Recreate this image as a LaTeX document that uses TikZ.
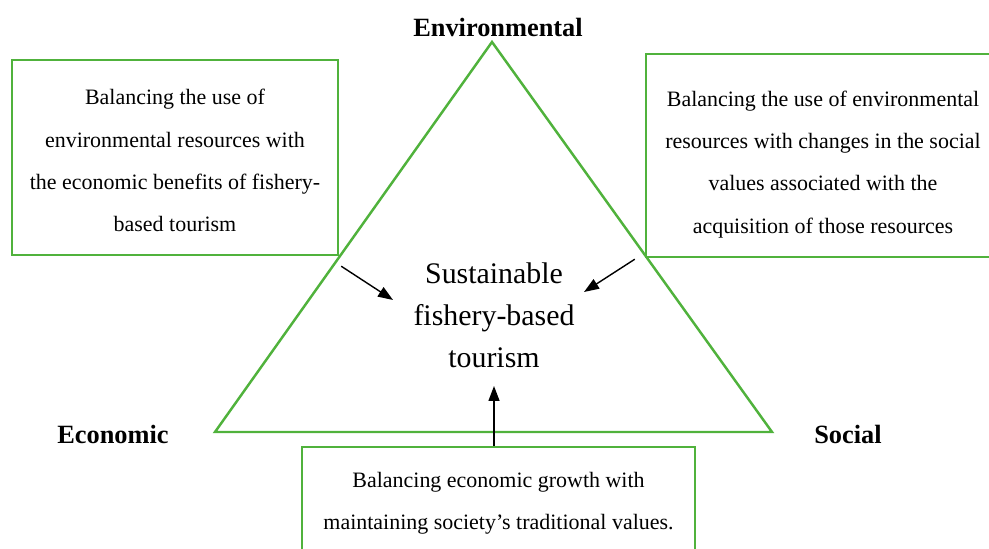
\documentclass[tikz,border=0pt]{standalone}
\usepackage{fontspec}
\setmainfont{Liberation Serif}
\usetikzlibrary{arrows.meta}
\definecolor{leafgreen}{RGB}{80,178,60}

\begin{document}
\begin{tikzpicture}[
    pillar/.style={draw=leafgreen, line width=1.4pt, inner sep=0pt},
    pillartext/.style={align=center, inner sep=0pt, font=\fontsize{12.5}{24}\selectfont},
    corner/.style={font=\bfseries\fontsize{15}{17}\selectfont},
    link/.style={-{Triangle[length=0.3cm, width=0.22cm]}, line width=0.8pt}
  ]
    \useasboundingbox (0,0) rectangle (19.78,10.98);

    % the triangle
    \coordinate (top) at (9.84,10.14);
    \coordinate (left) at (4.30,2.34);
    \coordinate (right) at (15.44,2.34);
    \draw[leafgreen, line width=1.4pt] (top) -- (left) -- (right) -- cycle;

    \node[corner] (env) at (9.96,10.44) {Environmental};
    \node[corner] (eco) at (2.26,2.30) {Economic};
    \node[corner] (soc) at (16.96,2.30) {Social};

    \node[align=center, font=\fontsize{17}{24}\selectfont] (goal) at (9.88,4.68)
      {Sustainable\\fishery-based\\tourism};

    % the three boxes
    \node[pillar, minimum width=6.52cm, minimum height=3.9cm] (envEco) at (3.50,7.83) {};
    \node[pillar, minimum width=7.08cm, minimum height=4.06cm] (envSoc) at (16.46,7.87) {};
    \node[pillar, minimum width=7.86cm, minimum height=2.24cm, anchor=north] (ecoSoc) at (9.97,2.06) {};

    \node[pillartext] (envEcoText) at ([yshift=-0.06cm]envEco.center)
      {Balancing the use of\\environmental resources with\\the economic benefits of fishery-\\based tourism};
    \node[pillartext] (envSocText) at ([yshift=-0.18cm]envSoc.center)
      {Balancing the use of environmental\\resources with changes in the social\\values associated with the\\acquisition of those resources};
    \node[pillartext] (ecoSocText) at (ecoSoc.center)
      {Balancing economic growth with\\maintaining society's traditional values.};

    % arrows into the goal
    \coordinate (inL) at (7.86,4.98);
    \coordinate (inR) at (11.68,5.14);
    \coordinate (inB) at (9.88,3.26);
    \draw[link] ([shift={(0.04,-0.2)}]envEco.south east) -- (inL);
    \draw[link] ([shift={(-0.2,-0.02)}]envSoc.south west) -- (inR);
    \draw[link] (ecoSoc.north -| inB) -- (inB);
\end{tikzpicture}
\end{document}
